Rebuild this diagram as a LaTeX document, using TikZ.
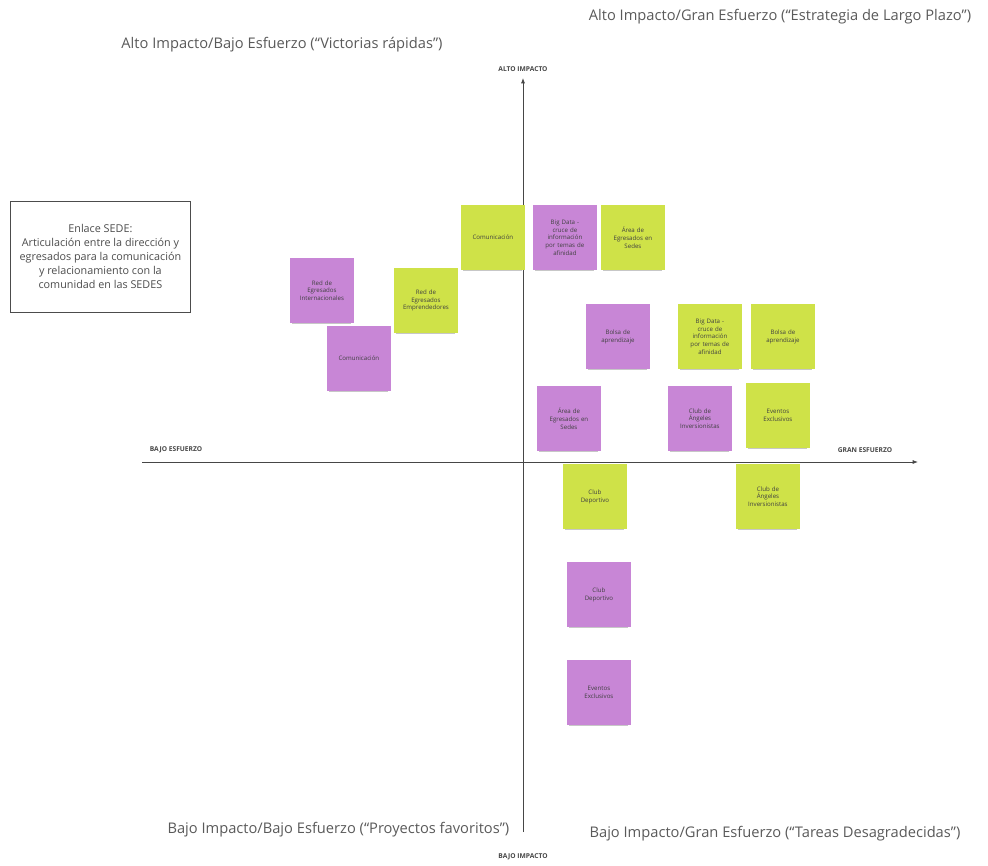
\documentclass[tikz,border=0pt]{standalone}
\usepackage{fontspec}
\setmainfont{Open Sans}
\usetikzlibrary{arrows.meta}
\definecolor{stickyP}{RGB}{200,134,214}
\definecolor{stickyG}{RGB}{207,226,72}
\definecolor{quadtxt}{RGB}{90,90,90}
\definecolor{axisc}{RGB}{70,70,70}
\tikzset{
  sticky/.style={minimum width=47.5pt,minimum height=48.5pt,inner sep=1pt,align=center,
    text width=44pt,font=\fontsize{4.6}{5.8}\selectfont,text=black!75},
  purp/.style={sticky,fill=stickyP},
  gren/.style={sticky,fill=stickyG},
  quad/.style={font=\fontsize{11}{13}\selectfont,text=quadtxt},
  axlab/.style={font=\fontsize{5}{6}\selectfont\bfseries,text=axisc},
  axisline/.style={draw=axisc,line width=0.6pt,-{Latex[length=4pt,width=3pt]}},
}
\newcommand{\stk}[5]{%
  \fill[black!22] (#2+2,#3+62) rectangle (#2+61,#3+66);
  \node[#1,anchor=north west] (#4) at (#2,#3) {#5};}
\begin{document}
\begin{tikzpicture}[x=0.75pt,y=-0.75pt]
\useasboundingbox[fill=white] (0,0) rectangle (988,866);
% axes
\coordinate (vb) at (523,832);
\coordinate (vt) at (523,78);
\coordinate (hl) at (142,462);
\coordinate (hr) at (918,462);
\draw[axisline] (vb) -- (vt);
\draw[axisline] (hl) -- (hr);
\node[axlab] (altoI) at (523,69) {ALTO IMPACTO};
\node[axlab] (bajoI) at (523,857) {BAJO IMPACTO};
\node[axlab] (bajoE) at (176,450) {BAJO ESFUERZO};
\node[axlab] (granE) at (865,450) {GRAN ESFUERZO};
% quadrant titles
\node[quad] (q1) at (282,45) {Alto Impacto/Bajo Esfuerzo (“Victorias rápidas”)};
\node[quad] (q2) at (780,17) {Alto Impacto/Gran Esfuerzo (“Estrategia de Largo Plazo”)};
\node[quad,anchor=east] (q3) at (514,830) {Bajo Impacto/Bajo Esfuerzo (“Proyectos favoritos”)};
\node[quad] (q4) at (775,834) {Bajo Impacto/Gran Esfuerzo (“Tareas Desagradecidas”)};
% info box
\node[draw=black!70,line width=0.6pt,minimum width=135pt,minimum height=83pt,align=center,
  font=\fontsize{8.1}{10.5}\selectfont,text=black!70,anchor=north west] (sede) at (10,201)
  {Enlace SEDE:\\Articulación entre la dirección y\\egresados para la comunicación\\y relacionamiento con la\\comunidad en las SEDES};
% stickies
\stk{purp}{290}{258}{s1}{Red de\\Egresados\\Internacionales}
\stk{purp}{327}{326}{s2}{Comunicación}
\stk{gren}{394}{268}{s3}{Red de\\Egresados\\Emprendedores}
\stk{gren}{461}{205}{s4}{Comunicación}
\stk{purp}{533}{205}{s5}{Big Data -\\cruce de\\información\\por temas de\\afinidad}
\stk{gren}{601}{205}{s6}{Área de\\Egresados en\\Sedes}
\stk{purp}{586}{304}{s7}{Bolsa de\\aprendizaje}
\stk{gren}{678}{304}{s8}{Big Data -\\cruce de\\información\\por temas de\\afinidad}
\stk{gren}{751}{304}{s9}{Bolsa de\\aprendizaje}
\stk{purp}{537}{386}{s10}{Área de\\Egresados en\\Sedes}
\stk{purp}{668}{386}{s11}{Club de\\Ángeles\\Inversionistas}
\stk{gren}{746}{383}{s12}{Eventos\\Exclusivos}
\stk{gren}{563}{464}{s13}{Club\\Deportivo}
\stk{gren}{736}{464}{s14}{Club de\\Ángeles\\Inversionistas}
\stk{purp}{567}{562}{s15}{Club\\Deportivo}
\stk{purp}{567}{660}{s16}{Eventos\\Exclusivos}
\end{tikzpicture}
\end{document}
